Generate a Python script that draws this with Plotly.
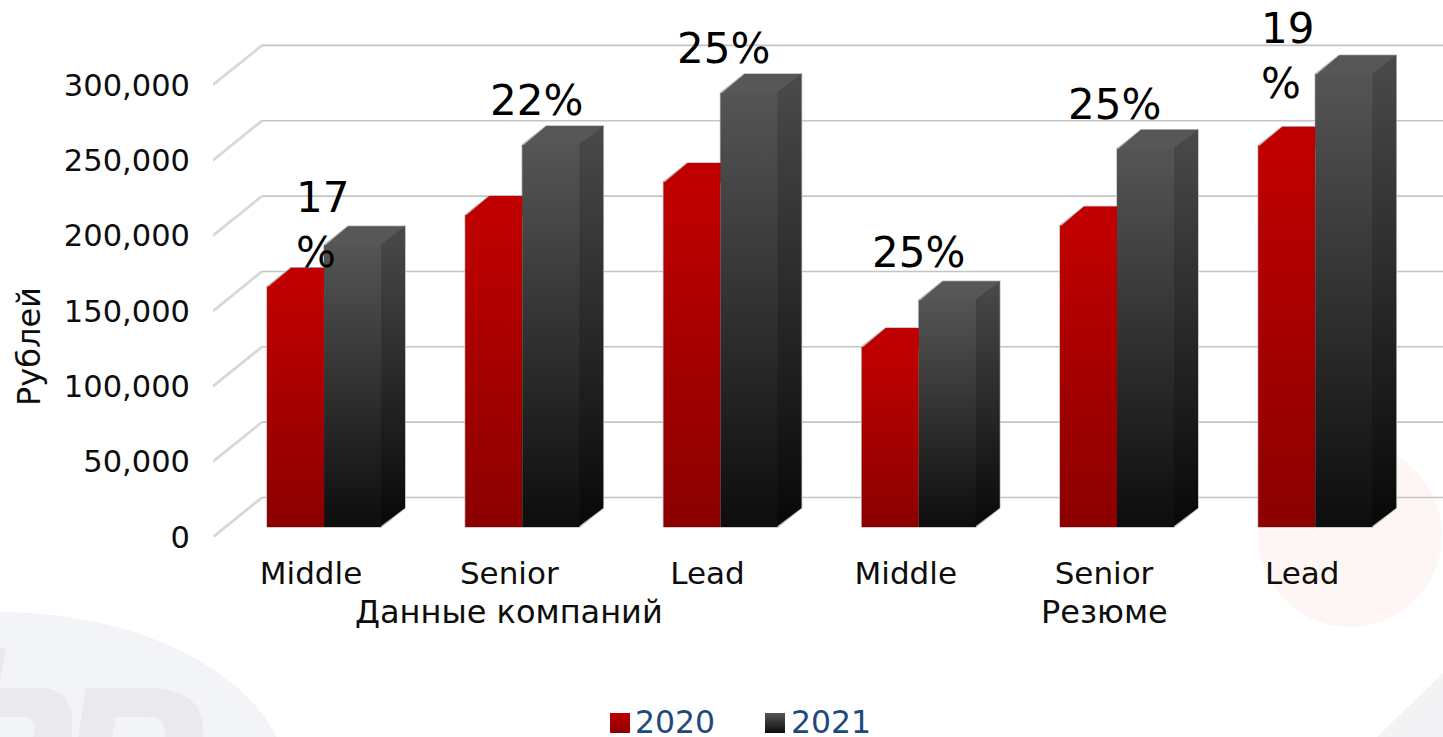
import plotly.graph_objects as go

# значения
categories = ['Middle', 'Senior', 'Lead', 'Middle', 'Senior', 'Lead']
groups = ['Данные компаний', 'Резюме']
group_centers = [1, 4]
values_2020 = [159500, 207000, 229000, 119500, 200000, 253000]
values_2021 = [187000, 253500, 288000, 150500, 251000, 300500]
growth_labels = ['17<br>%', '22%', '25%', '25%', '25%', '19<br>%']
y_ticks = [0, 50000, 100000, 150000, 200000, 250000, 300000]
series_names = ['2020', '2021']

WIDTH, HEIGHT = 1443, 737
PLOT_LEFT, PLOT_BOTTOM = 213, 537

# масштаб осей
X_RANGE = [-0.4945, 5.71]
Y_RANGE = [0, 356330]

# псевдо-3D: смещения в единицах осей
WALL_DX, WALL_DY = 0.247, 26200
BAR_DX, BAR_DY = 0.121, 12600
BAR_W = 0.2876
BAR_SHIFT = 0.0656
FLOOR = 6635
SEAM = 700

# сдвиг подписей над столбцами, пиксели
LABEL_XSHIFT = [-30, -14, -26, -29, -31, -56]
LABEL_YSHIFT = [-34, 18, 18, 21, 18, -36]

RED = dict(front=['#8B0000', '#C00000'], top='#C00000')
GRAY = dict(front=['#0D0D0D', '#555555'], side=['#080808', '#4A4A4A'], top='#575757')


def px_x(px):
    return (px - PLOT_LEFT) / (WIDTH - PLOT_LEFT)


def px_y(py):
    return 1 - py / HEIGHT


def data_x(px):
    return X_RANGE[0] + px_x(px) * (X_RANGE[1] - X_RANGE[0])


def path_px(points):
    """Фигура фона из пиксельных точек: M/L/Q команды в координатах paper."""
    parts = []
    for cmd, *coords in points:
        pairs = [f'{px_x(coords[i])},{px_y(coords[i + 1])}' for i in range(0, len(coords), 2)]
        parts.append(cmd + ' ' + ' '.join(pairs))
    return ' '.join(parts) + ' Z'


def poly(fig, xs, ys, colors=None, flat=None):
    kw = dict(fill='toself', mode='lines', line=dict(width=0), showlegend=False, hoverinfo='skip')
    if colors:
        kw['fillgradient'] = dict(type='vertical', colorscale=[[0, colors[0]], [1, colors[1]]])
    else:
        kw['fillcolor'] = flat
    fig.add_trace(go.Scatter(x=xs, y=ys, **kw))


def outline(fig, x0, x1, value):
    top = FLOOR + value
    xs = [x0, x0, x0 + BAR_DX, x1 + BAR_DX, x1 + BAR_DX, x1, x0]
    ys = [FLOOR, top, top + BAR_DY, top + BAR_DY, FLOOR + BAR_DY, FLOOR, FLOOR]
    fig.add_trace(go.Scatter(x=xs, y=ys, mode='lines', line=dict(color='#BDBDBD', width=1.5),
                             showlegend=False, hoverinfo='skip'))


def bar_3d(fig, x0, x1, value, style):
    top = FLOOR + value
    # грани заходят друг под друга, чтобы на стыках не было светлого шва
    poly(fig, [x0, x0 + BAR_DX, x1 + BAR_DX, x1 + BAR_DX, x1, x0, x0],
         [top - SEAM, top + BAR_DY, top + BAR_DY, top + BAR_DY - SEAM, top - SEAM, top - SEAM, top - SEAM],
         flat=style['top'])
    if 'side' in style:
        poly(fig, [x1 - 0.006, x1 + BAR_DX, x1 + BAR_DX, x1 - 0.006, x1 - 0.006],
             [FLOOR, FLOOR + BAR_DY, top + BAR_DY, top, FLOOR], colors=style['side'])
    poly(fig, [x0, x1, x1, x0, x0], [FLOOR, FLOOR, top, top, FLOOR], colors=style['front'])


fig = go.Figure()

# сетка: задняя стенка и диагонали пола
for v in y_ticks:
    fig.add_trace(go.Scatter(x=[X_RANGE[0] + WALL_DX, X_RANGE[1]], y=[v + WALL_DY, v + WALL_DY],
                             mode='lines', line=dict(color='#C4C4C4', width=1.6),
                             showlegend=False, hoverinfo='skip'))
    for color, w in [('#C8C8C8', 2.4), ('#EDEDED', 0.9)]:
        fig.add_trace(go.Scatter(x=[X_RANGE[0], X_RANGE[0] + WALL_DX], y=[v, v + WALL_DY],
                                 mode='lines', line=dict(color=color, width=w),
                                 showlegend=False, hoverinfo='skip'))

for i in range(len(categories)):
    left = i + BAR_SHIFT - BAR_W
    mid = i + BAR_SHIFT
    right = i + BAR_SHIFT + BAR_W
    outline(fig, mid, right, values_2021[i])
    outline(fig, left, mid, values_2020[i])
    bar_3d(fig, left, mid, values_2020[i], RED)
    bar_3d(fig, mid, right, values_2021[i], GRAY)

# легенда: штатная обрезает маркер до 16 px, поэтому маркеры и подписи на своей оси внизу
legend_marks = [(620, 635, '#C00000', '#8B0000'), (775, 791, '#555555', '#0D0D0D')]
for name, (mark_px, text_px, c_top, c_bottom) in zip(series_names, legend_marks):
    fig.add_trace(go.Scatter(x=[data_x(mark_px)], y=[HEIGHT - 723], yaxis='y2', mode='markers', name=name,
                             marker=dict(symbol='square', size=20, color=c_top, line_width=0,
                                         gradient=dict(type='vertical', color=c_bottom)),
                             showlegend=False, hoverinfo='skip'))
    fig.add_trace(go.Scatter(x=[data_x(text_px)], y=[HEIGHT - 725], yaxis='y2', mode='text', name=name,
                             text=[name], textposition='middle right',
                             textfont=dict(size=31.5, color='#1F497D'),
                             showlegend=False, hoverinfo='skip'))

annotations = []
for i, label in enumerate(growth_labels):
    annotations.append(dict(x=i + BAR_SHIFT + BAR_W / 2, y=FLOOR + values_2021[i], text=label,
                            xref='x', yref='y', showarrow=False, align='left',
                            xanchor='center', yanchor='bottom',
                            xshift=LABEL_XSHIFT[i], yshift=LABEL_YSHIFT[i],
                            font=dict(size=42, color='#000000')))
for name, center in zip(groups, group_centers):
    annotations.append(dict(x=center, y=0, text=name, xref='x', yref='y', showarrow=False,
                            yanchor='middle', yshift=-75, font=dict(size=32, color='#0D0D0D')))
annotations.append(dict(x=px_x(29), y=px_y(347), text='Рублей', xref='paper', yref='paper',
                        xanchor='center', yanchor='middle',
                        showarrow=False, textangle=-90, font=dict(size=32, color='#0D0D0D')))

# бледный фон: эллипс с буквами, круг и треугольник
shapes = [
    dict(type='circle', xref='paper', yref='paper', layer='below', line_width=0, fillcolor='#F3F4F8',
         x0=px_x(-290), x1=px_x(290), y0=px_y(612), y1=px_y(968)),
    dict(type='path', xref='paper', yref='paper', layer='below', line_width=0, fillcolor='#EAEAEC',
         path=path_px([('M', 0, 648), ('L', 6, 648), ('L', 0, 682)])),
    dict(type='path', xref='paper', yref='paper', layer='below', line_width=0, fillcolor='#EAEAEC',
         path=path_px([('M', 0, 688), ('L', 42, 688), ('Q', 72, 690, 72, 720), ('L', 72, 737), ('L', 33, 737),
                        ('L', 35, 727), ('Q', 35, 717, 22, 717), ('L', 0, 717)])),
    dict(type='path', xref='paper', yref='paper', layer='below', line_width=0, fillcolor='#EAEAEC',
         path=path_px([('M', 86, 688), ('L', 155, 688), ('Q', 203, 692, 203, 730), ('L', 203, 737), ('L', 165, 737),
                        ('L', 165, 732), ('Q', 165, 717, 148, 717), ('L', 116, 717), ('L', 112, 737), ('L', 78, 737)])),
    dict(type='circle', xref='paper', yref='paper', layer='below', line_width=0, fillcolor='#FEF6F5',
         x0=px_x(1258), x1=px_x(1442), y0=px_y(443), y1=px_y(627)),
    dict(type='path', xref='paper', yref='paper', layer='below', line_width=0, fillcolor='#F3F3F5',
         path=path_px([('M', 1443, 673), ('L', 1443, 737), ('L', 1377, 737)])),
]

fig.update_layout(
    width=WIDTH, height=HEIGHT,
    margin=dict(l=PLOT_LEFT, r=0, t=0, b=0, autoexpand=False),
    paper_bgcolor='white', plot_bgcolor='rgba(0,0,0,0)',
    font=dict(family='DejaVu Sans', size=30, color='#0D0D0D'),
    showlegend=False,
    xaxis=dict(range=X_RANGE, tickvals=list(range(len(categories))), ticktext=categories,
               showgrid=False, zeroline=False, showline=False, ticks='', ticklabelstandoff=15,
               tickfont=dict(size=31, color='#0D0D0D')),
    yaxis=dict(domain=[px_y(PLOT_BOTTOM), 1], range=Y_RANGE, tickvals=y_ticks, tickformat=',', showgrid=False,
               zeroline=False, showline=False, ticks='', ticklabelstandoff=22,
               tickfont=dict(size=30.5, color='#0D0D0D')),
    yaxis2=dict(domain=[0, px_y(PLOT_BOTTOM)], range=[0, HEIGHT - PLOT_BOTTOM], visible=False, anchor='x'),
    annotations=annotations,
    shapes=shapes,
)

# убираем отступ body, чтобы график лежал ровно от угла окна
fig.write_html("out.html", config={'displayModeBar': False}, post_script="document.body.style.margin='0';")
